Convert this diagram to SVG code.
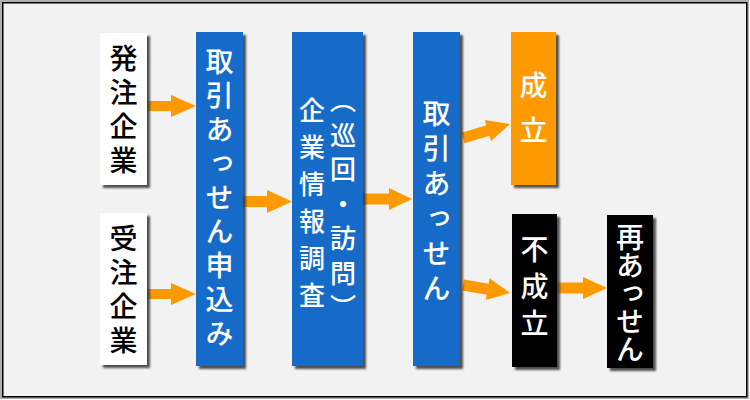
<svg xmlns="http://www.w3.org/2000/svg" width="750" height="400" viewBox="0 0 750 400">
<defs>
<filter id="sh" x="-20%" y="-10%" width="140%" height="120%">
<feDropShadow dx="3" dy="3" stdDeviation="0.8" flood-color="#333" flood-opacity="0.85"/>
</filter>
<style>
.box{filter:url(#sh);}
.white{fill:#FFFFFF;}
.blue{fill:#136AC8;}
.orange{fill:#FF9900;}
.black{fill:#000000;}
.t{font-family:"Noto Sans CJK JP","Noto Sans",sans-serif;writing-mode:vertical-rl;text-anchor:middle;font-size:28px;font-weight:500;}
.tw{fill:#FFFFFF;}
.tb{fill:#000000;}
.arrow{fill:#FF9900;}
</style>
</defs>
<rect x="1" y="1" width="747" height="397" fill="none" stroke="#B0B0B0" stroke-width="2"/>
<rect x="2.75" y="2.75" width="744" height="394" fill="#F2F2F2" stroke="#000" stroke-width="1.5"/>

<g id="connectors">
<polygon class="arrow" points="147,101 171,101 171,95 196,106 171,117 171,111 147,111"/>
<polygon class="arrow" points="147,289 171,289 171,283 196,294 171,305 171,299 147,299"/>
<polygon class="arrow" points="243,196 267,196 267,190 292,201.5 267,213 267,207 243,207"/>
<polygon class="arrow" points="363,193.5 389,193.5 389,188 412,199 389,210 389,204.5 363,204.5"/>
<path class="arrow" transform="translate(463,138) rotate(-16.6)" d="M0,-5.5 H26 V-11 L49,0 L26,11 V5.5 H0 Z"/>
<path class="arrow" transform="translate(463,285) rotate(9.7)" d="M0,-5.5 H25 V-11 L47.7,0 L25,11 V5.5 H0 Z"/>
<polygon class="arrow" points="557,282.5 583,282.5 583,277 607,288 583,299 583,293.5 557,293.5"/>
</g>

<g id="hatchu">
<rect class="box white" x="100" y="33" width="47" height="152"/>
<text class="t tb" x="123.5" y="112" style="letter-spacing:6px">発注企業</text>
</g>
<g id="juchu">
<rect class="box white" x="100" y="213" width="47" height="152"/>
<text class="t tb" x="123.5" y="292" style="letter-spacing:6px">受注企業</text>
</g>
<g id="moushikomi">
<rect class="box blue" x="196" y="32" width="47" height="334"/>
<text class="t tw" x="219.5" y="200" style="letter-spacing:6px">取引あっせん申込み</text>
</g>
<g id="chousa">
<rect class="box blue" x="292" y="32" width="71" height="334"/>
<text class="t tw" x="312" y="208" style="font-size:26px;letter-spacing:11px">企業情報調査</text>
<text class="t tw" x="343" y="208" style="font-size:26px;letter-spacing:8.5px">（巡回・訪問）</text>
</g>
<g id="assen">
<rect class="box blue" x="413" y="32" width="47" height="334"/>
<text class="t tw" x="436.5" y="204" style="letter-spacing:7px">取引あっせん</text>
</g>
<g id="seiritsu">
<rect class="box orange" x="511" y="32" width="45" height="153"/>
<text class="t tw" x="533.5" y="116" style="letter-spacing:17px">成立</text>
</g>
<g id="fuseiritsu">
<rect class="box black" x="512" y="214" width="45" height="153"/>
<text class="t tw" x="534.5" y="291" style="letter-spacing:9px">不成立</text>
</g>
<g id="saiassen">
<rect class="box black" x="607" y="215" width="46" height="153"/>
<text class="t tw" x="630" y="293" style="letter-spacing:0px">再あっせん</text>
</g>
</svg>
